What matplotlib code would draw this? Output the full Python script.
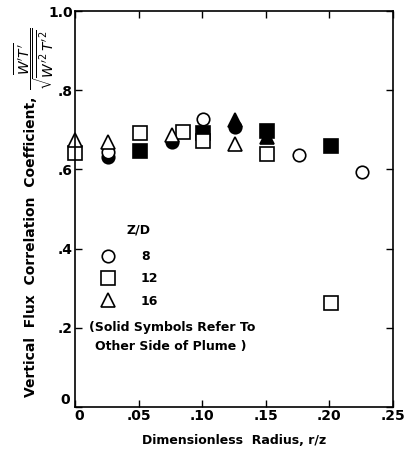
import matplotlib
matplotlib.use('Agg')
import matplotlib.pyplot as plt
import matplotlib.transforms as mtransforms
from matplotlib.lines import Line2D

plt.rcParams['font.family'] = ['DejaVu Sans']
plt.rcParams['mathtext.fontset'] = 'dejavusans'

# Z/D = 8 (circles)
r_c_open = [0.026, 0.101, 0.176, 0.226]
y_c_open = [0.645, 0.727, 0.636, 0.594]
r_c_solid = [0.026, 0.076, 0.126]
y_c_solid = [0.632, 0.670, 0.708]

# Z/D = 12 (squares)
r_s_open = [0.0, 0.051, 0.085, 0.101, 0.151, 0.201]
y_s_open = [0.642, 0.691, 0.695, 0.672, 0.640, 0.262]
r_s_solid = [0.051, 0.101, 0.151, 0.201]
y_s_solid = [0.646, 0.691, 0.697, 0.660]

# Z/D = 16 (triangles)
r_t_open = [0.0, 0.026, 0.076, 0.126]
y_t_open = [0.674, 0.668, 0.687, 0.664]
r_t_solid = [0.126, 0.151]
y_t_solid = [0.725, 0.682]

legend_labels = ['8', '12', '16']
x_ticks = [0, 0.05, 0.10, 0.15, 0.20, 0.25]
x_ticklabels = ['0', '.05', '.10', '.15', '.20', '.25']
y_ticks = [0, 0.2, 0.4, 0.6, 0.8, 1.0]
y_ticklabels = ['0', '.2', '.4', '.6', '.8', '1.0']

fig = plt.figure(figsize=(4.06, 4.53), dpi=100)
ax = fig.add_axes([0.1847, 0.1015, 0.7833, 0.8742])

sizes = {'o': 9, 's': 10, '^': 10}

def kw(m, face):
    return dict(linestyle='none', marker=m, markerfacecolor=face, markeredgecolor='black',
                markeredgewidth=1.2, markersize=sizes[m], clip_on=False)

# solid symbols first, open ones drawn on top
ax.plot(r_c_solid, y_c_solid, **kw('o', 'black'))
ax.plot(r_s_solid, y_s_solid, **kw('s', 'black'))
ax.plot(r_t_solid, y_t_solid, **kw('^', 'black'))
ax.plot(r_c_open, y_c_open, **kw('o', 'white'))
ax.plot(r_s_open, y_s_open, **kw('s', 'white'))
ax.plot(r_t_open, y_t_open, **kw('^', 'white'))

ax.set_xlim(0, 0.25)
ax.set_ylim(0, 1.0)
ax.set_xticks(x_ticks)
ax.set_xticklabels(x_ticklabels, fontweight='bold')
ax.set_yticks(y_ticks)
ax.set_yticklabels(y_ticklabels, fontweight='bold')
ax.tick_params(direction='in', length=5, width=1, top=True, right=True,
               labelsize=10, pad=1.5)
for sp in ax.spines.values():
    sp.set_linewidth(1.2)

# the two origin zeros sit apart like in the original
fig.canvas.draw()
ylab0 = ax.get_yticklabels()[0]
ylab0.set_transform(ylab0.get_transform() + mtransforms.ScaledTranslation(-2/72, 6/72, fig.dpi_scale_trans))
xlab0 = ax.get_xticklabels()[0]
xlab0.set_transform(xlab0.get_transform() + mtransforms.ScaledTranslation(3/72, 0, fig.dpi_scale_trans))

ax.set_xlabel('Dimensionless  Radius, r/z', fontsize=9, fontweight='bold', labelpad=8)
ax.set_ylabel('Vertical  Flux  Correlation  Coefficient,', fontsize=10, fontweight='bold')
ax.yaxis.set_label_coords(-0.116, 0.405)
# the ratio at the top end of the y label
fig.text(0.084, 0.87, r"$\dfrac{\overline{W'T'}}{\sqrt{\overline{W'^2}\,\overline{T'^2}}}$",
         rotation=90, fontsize=10, ha='center', va='center')

handles = [Line2D([], [], **kw(m, 'white')) for m in ['o', 's', '^']]
leg = ax.legend(handles, legend_labels, frameon=False, loc='upper left',
                bbox_to_anchor=(0.05, 0.425), fontsize=9,
                labelspacing=0.75, handletextpad=2.1, handlelength=1.0)
for t in leg.get_texts():
    t.set_fontweight('bold')

ax.text(0.163, 0.447, 'Z/D', transform=ax.transAxes,
        fontsize=9, fontweight='bold', va='center')
ax.text(0.045, 0.20, '(Solid Symbols Refer To', transform=ax.transAxes,
        fontsize=9, fontweight='bold', va='center')
ax.text(0.063, 0.152, 'Other Side of Plume )', transform=ax.transAxes,
        fontsize=9, fontweight='bold', va='center')

fig.savefig('out.png', dpi=100)
